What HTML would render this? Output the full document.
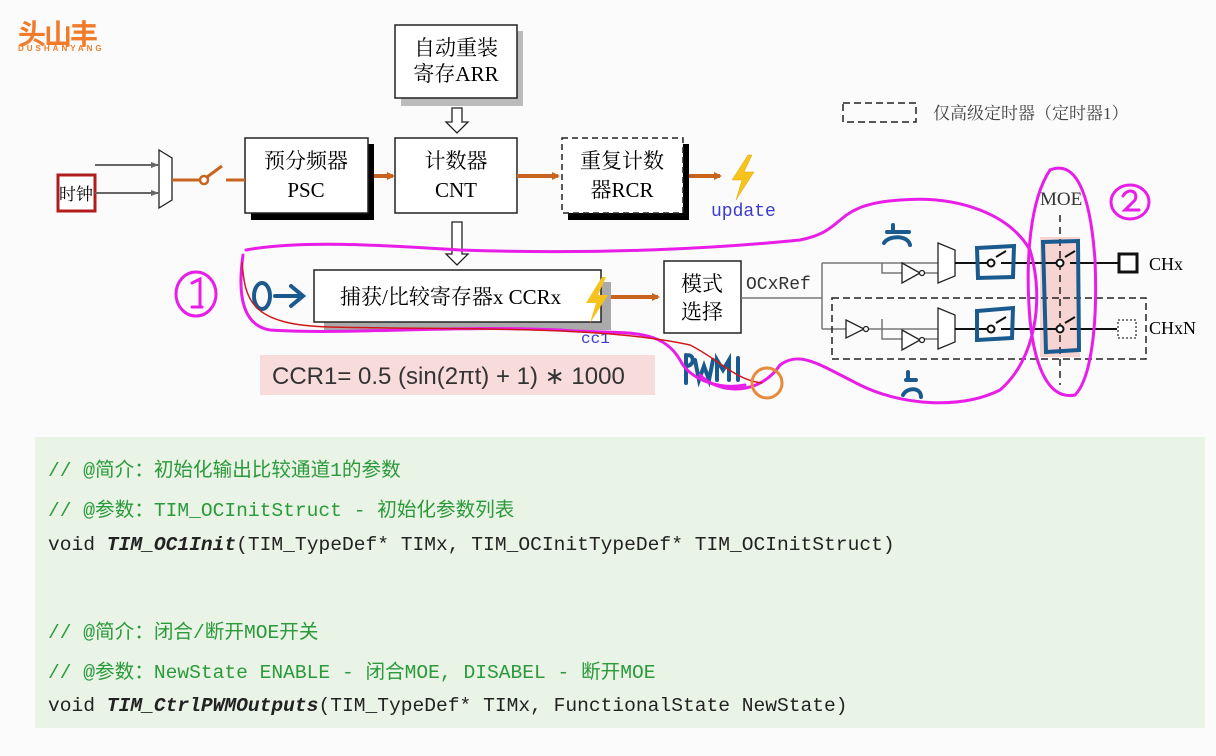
<!DOCTYPE html>
<html><head><meta charset="utf-8"><style>
body{margin:0;width:1216px;height:756px;background:#fbfbfb;overflow:hidden;position:relative;font-family:"Liberation Serif","Noto Serif CJK SC",serif}
.code{position:absolute;left:35px;top:437px;width:1170px;height:291px;background:#e9f3e6}
.code div{position:absolute;left:13px;font-family:"Liberation Mono","Noto Sans CJK SC",monospace;font-size:19.6px;white-space:pre;color:#222}
.code .c{color:#2b9a3a}
</style></head><body>
<div style="position:absolute;left:18px;top:18px;color:#f07c2a;font:bold 28px 'Noto Sans CJK SC',sans-serif;letter-spacing:-2px;line-height:30px">头山丰</div>
<div style="position:absolute;left:18px;top:44px;color:#f07c2a;font:bold 8px 'Liberation Sans',sans-serif;letter-spacing:3px">DUSHANYANG</div>
<svg width="1216" height="430" style="position:absolute;left:0;top:0" font-family="Liberation Serif, Noto Serif CJK SC, serif">
<defs>
<marker id="oa" markerWidth="8" markerHeight="8" refX="6" refY="4" orient="auto" markerUnits="userSpaceOnUse"><path d="M0,0 L8,4 L0,8z" fill="#c8641e"/></marker>
<marker id="ga" markerWidth="8" markerHeight="8" refX="7" refY="4" orient="auto" markerUnits="userSpaceOnUse"><path d="M0,1 L8,4 L0,7z" fill="#666"/></marker>
</defs>
<rect x="401" y="31" width="122" height="75" fill="#bbb"/>
<rect x="395" y="25" width="122" height="73" fill="#fff" stroke="#222" stroke-width="1.5"/>
<text x="456" y="55" font-size="21" text-anchor="middle">自动重装</text>
<text x="456" y="81" font-size="21" text-anchor="middle">寄存ARR</text>
<path d="M452,108 h10 v14 h6 l-11,11 l-11,-11 h6z" fill="#fff" stroke="#222" stroke-width="1.3"/>
<rect x="251" y="144" width="123" height="76" fill="#000"/>
<rect x="245" y="138" width="123" height="75" fill="#fff" stroke="#222" stroke-width="1.5"/>
<text x="306" y="168" font-size="21" text-anchor="middle">预分频器</text>
<text x="306" y="197" font-size="21" text-anchor="middle">PSC</text>
<rect x="395" y="138" width="122" height="75" fill="#fff" stroke="#222" stroke-width="1.5"/>
<text x="456" y="168" font-size="21" text-anchor="middle">计数器</text>
<text x="456" y="197" font-size="21" text-anchor="middle">CNT</text>
<rect x="568" y="144" width="121" height="76" fill="#000"/>
<rect x="562" y="138" width="121" height="75" fill="#fff" stroke="#222" stroke-width="1.5" stroke-dasharray="6,4"/>
<text x="622" y="168" font-size="21" text-anchor="middle">重复计数</text>
<text x="622" y="197" font-size="21" text-anchor="middle">器RCR</text>
<rect x="58" y="175" width="37" height="36" fill="#fff" stroke="#b01c1c" stroke-width="3"/>
<text x="76" y="200" font-size="17" text-anchor="middle">时钟</text>
<line x1="95" y1="165" x2="158" y2="165" stroke="#666" stroke-width="2" marker-end="url(#ga)"/>
<line x1="95" y1="193" x2="158" y2="193" stroke="#666" stroke-width="2" marker-end="url(#ga)"/>
<path d="M159,150 L172,158 L172,200 L159,208z" fill="#fff" stroke="#222" stroke-width="1.3"/>
<line x1="172" y1="180" x2="200" y2="180" stroke="#c8641e" stroke-width="3"/>
<circle cx="204" cy="180" r="4" fill="#fff" stroke="#c8641e" stroke-width="2.5"/>
<line x1="207" y1="177" x2="222" y2="166" stroke="#c8641e" stroke-width="3"/>
<line x1="226" y1="180" x2="245" y2="180" stroke="#c8641e" stroke-width="3"/>
<line x1="374" y1="176" x2="393" y2="176" stroke="#c8641e" stroke-width="4" marker-end="url(#oa)"/>
<line x1="517" y1="176" x2="558" y2="176" stroke="#c8641e" stroke-width="4" marker-end="url(#oa)"/>
<line x1="689" y1="176" x2="720" y2="176" stroke="#c8641e" stroke-width="4" marker-end="url(#oa)"/>
<path d="M748,155 L732,180 L742,180 L736,200 L754,172 L744,172 L752,155z" fill="#f6c21c" stroke="#e6a800" stroke-width="0.5"/>
<text x="711" y="216" font-size="18" fill="#3b3bd0" font-family="Liberation Mono,monospace">update</text>
<path d="M452,222 h10 v32 h6 l-11,11 l-11,-11 h6z" fill="#fff" stroke="#222" stroke-width="1.3"/>
<rect x="843" y="103" width="73" height="19" fill="none" stroke="#222" stroke-width="1.5" stroke-dasharray="7,4"/>
<text x="933" y="119" font-size="17" fill="#444">仅高级定时器（定时器1）</text>
<rect x="324" y="282" width="287" height="48" fill="#aaa"/>
<rect x="314" y="270" width="287" height="52" fill="#fff" stroke="#222" stroke-width="1.5"/>
<text x="340" y="304" font-size="21">捕获/比较寄存器x  CCRx</text>
<path d="M602,277 L586,303 L596,303 L590,323 L608,295 L598,295 L606,277z" fill="#f6c21c"/>
<line x1="611" y1="297" x2="658" y2="297" stroke="#c8641e" stroke-width="4" marker-end="url(#oa)"/>
<text x="581" y="343" font-size="16" fill="#3b3bd0" font-family="Liberation Mono,monospace">cc1</text>
<rect x="664" y="261" width="77" height="72" fill="#fff" stroke="#222" stroke-width="1.5"/>
<text x="702" y="291" font-size="21" text-anchor="middle">模式</text>
<text x="702" y="319" font-size="21" text-anchor="middle">选择</text>
<text x="746" y="289" font-size="18" fill="#333" font-family="Liberation Mono,monospace">OCxRef</text>
<g stroke="#777" stroke-width="1.5" fill="none">
<path d="M741,298 H822 M822,263 V329 M822,263 H938 M882,263 V273 H902 M922,273 H938 M822,329 H846 M866,329 H938 M882,319 V339 H902 M922,339 H938"/>
</g>
<g stroke="#222" stroke-width="1.3" fill="#fff">
<path d="M902,263 L920,273 L902,283z"/><circle cx="922" cy="273" r="2.5"/>
<path d="M846,320 L864,329 L846,338z"/><circle cx="866" cy="329" r="2.5"/>
<path d="M902,330 L920,340 L902,350z"/><circle cx="922" cy="340" r="2.5"/>
<path d="M938,243 L955,250 L955,276 L938,283z"/>
<path d="M938,308 L955,315 L955,342 L938,349z"/>
</g>
<rect x="1040" y="237" width="40" height="120" fill="#f6d4d2"/>
<line x1="1060" y1="215" x2="1060" y2="385" stroke="#222" stroke-width="1.5" stroke-dasharray="7,5"/>
<g stroke="#111" stroke-width="2" fill="none">
<path d="M955,263 H987 M996,257 L1006,251 M1001,263 H1056 M1065,257 L1075,251 M1070,263 H1118"/>
<path d="M955,329 H987 M996,323 L1006,317 M1001,329 H1056 M1065,323 L1075,317 M1070,329 H1117"/>
<circle cx="991" cy="263" r="3.5" fill="#fff"/><circle cx="1060" cy="263" r="3.5" fill="#fff"/>
<circle cx="991" cy="329" r="3.5" fill="#fff"/><circle cx="1060" cy="329" r="3.5" fill="#fff"/>
</g>
<rect x="1119" y="254" width="18" height="18" fill="#fff" stroke="#111" stroke-width="3"/>
<rect x="1118" y="320" width="18" height="18" fill="#fff" stroke="#333" stroke-width="1.3" stroke-dasharray="2,2"/>
<text x="1149" y="270" font-size="18">CHx</text>
<text x="1149" y="334" font-size="18">CHxN</text>
<rect x="832" y="298" width="314" height="61" fill="none" stroke="#222" stroke-width="1.5" stroke-dasharray="7,4"/>
<text x="1040" y="205" font-size="19" fill="#333">MOE</text>
<g stroke="#1b5a8e" stroke-width="4" fill="none" stroke-linecap="round">
<path d="M977,248 L1014,246 L1013,277 L978,278 Z"/>
<path d="M977,311 L1013,308 L1012,338 L977,340 Z"/>
<path d="M1043,242 L1078,241 L1079,350 L1046,352 Z"/>
<ellipse cx="262" cy="296" rx="8" ry="13"/>
<path d="M275,296 H300 M291,286 L303,296 L291,306"/>
<path d="M887,232 h22 M884,243 c5,-8 24,-8 26,2 M893,225 l0,5"/>
<path d="M906,380 h10 M903,395 c4,-8 18,-8 18,2 M908,372 l0,5"/>
<path d="M686,355 v28 M686,356 c8,-4 10,10 0,10 M695,360 l4,20 l5,-14 l5,14 l4,-20 M717,380 v-20 l6,10 l6,-10 v20 M738,358 v22"/>
</g>
<rect x="260" y="355" width="395" height="40" fill="#f8dcdc"/>
<text x="272" y="384" font-size="24" fill="#333" font-family="Liberation Sans, sans-serif">CCR1= 0.5 (sin(2πt) + 1) ∗ 1000</text>
<g stroke="#e81ee8" stroke-width="3" fill="none" stroke-linecap="round">
<path d="M246,250 C300,240 380,245 460,250 C600,255 720,248 800,240 C850,230 830,205 900,200 C960,195 1010,215 1030,250 C1045,300 1035,360 1000,390 C960,410 900,405 860,385 C820,365 800,350 780,365 C760,395 720,395 700,375"/>
<path d="M243,255 C238,290 240,325 270,330 C350,335 450,325 560,330 C620,335 660,325 680,360 C690,380 720,390 745,385"/>
<path d="M1050,170 C1030,200 1025,260 1030,320 C1035,370 1050,400 1075,395 C1090,380 1098,330 1095,260 C1090,190 1075,160 1050,170"/>
<ellipse cx="196" cy="294" rx="20" ry="22"/>
<path d="M192,283 l8,-4 v28 M192,307 h10"/>
<ellipse cx="1130" cy="202" rx="19" ry="17"/>
<path d="M1123,196 c4,-8 16,-6 12,4 l-10,10 h14"/>
</g>
<path d="M242,262 C245,300 250,325 330,327 C450,330 600,325 690,345 C720,360 735,380 762,383" stroke="#d01818" stroke-width="1.5" fill="none"/>
<circle cx="767" cy="383" r="15" fill="none" stroke="#e88a3c" stroke-width="3"/>
</svg>
<div class="code">
<div class="c" style="top:16px">// @简介：初始化输出比较通道1的参数</div>
<div class="c" style="top:56px">// @参数：TIM_OCInitStruct - 初始化参数列表</div>
<div style="top:97px">void <b><i>TIM_OC1Init</i></b>(TIM_TypeDef* TIMx, TIM_OCInitTypeDef* TIM_OCInitStruct)</div>
<div class="c" style="top:178px">// @简介：闭合/断开MOE开关</div>
<div class="c" style="top:218px">// @参数：NewState ENABLE - 闭合MOE, DISABEL - 断开MOE</div>
<div style="top:258px">void <b><i>TIM_CtrlPWMOutputs</i></b>(TIM_TypeDef* TIMx, FunctionalState NewState)</div>
</div>
</body></html>
